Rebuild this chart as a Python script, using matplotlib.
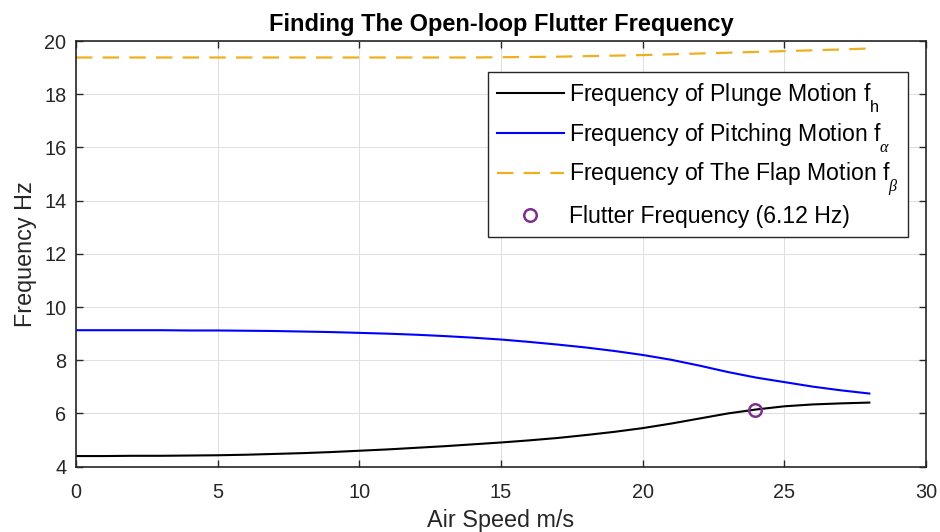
import matplotlib.pyplot as plt
import numpy as np

plt.rcParams['font.family'] = ['Liberation Sans', 'DejaVu Sans']
plt.rcParams['mathtext.fontset'] = 'custom'
plt.rcParams['mathtext.rm'] = 'Liberation Sans'
plt.rcParams['mathtext.it'] = 'Liberation Serif:italic'

# MATLAB puts subscripts lower than mathtext does
try:
    from matplotlib import _mathtext
    _mathtext.FontConstantsBase.sub1 = 1.0
except Exception:
    pass

# air speed (m/s)
speed = list(range(0, 29))

# plunge frequency f_h (Hz)
f_plunge = [4.40, 4.40, 4.41, 4.41, 4.42, 4.43, 4.45, 4.48, 4.51, 4.55,
            4.60, 4.65, 4.71, 4.77, 4.84, 4.91, 4.99, 5.08, 5.19, 5.31,
            5.45, 5.62, 5.81, 6.00, 6.15, 6.27, 6.34, 6.38, 6.41]

# pitching frequency f_alpha (Hz)
f_pitch = [9.13, 9.13, 9.13, 9.13, 9.12, 9.12, 9.11, 9.10, 9.08, 9.06,
           9.03, 9.00, 8.96, 8.91, 8.85, 8.78, 8.69, 8.59, 8.48, 8.35,
           8.20, 8.02, 7.80, 7.56, 7.35, 7.18, 7.01, 6.87, 6.75]

# flap frequency f_beta (Hz)
f_flap = [19.38, 19.38, 19.38, 19.38, 19.38, 19.38, 19.38, 19.38, 19.38, 19.38,
          19.38, 19.38, 19.38, 19.38, 19.38, 19.39, 19.40, 19.41, 19.43, 19.45,
          19.47, 19.50, 19.53, 19.56, 19.59, 19.62, 19.65, 19.68, 19.72]

flutter_speed = 23.95
flutter_freq = 6.12

axcol = '#262626'

fig = plt.figure(figsize=(9.4, 5.32), dpi=100)
ax = fig.add_axes([76 / 940, 1 - 466.7 / 532, 850 / 940, 425.7 / 532])

ax.plot(speed, f_plunge, color='black', lw=1.5,
        label=r'Frequency of Plunge Motion f$_{\mathrm{h}}$')
ax.plot(speed, f_pitch, color='#0000ff', lw=1.5,
        label=r'Frequency of Pitching Motion f$_{\alpha}$')
ax.plot(speed, f_flap, color='#edb120', lw=1.6, ls=(0, (7.4, 4.6)),
        label=r'Frequency of The Flap Motion f$_{\beta}$')
ax.plot([flutter_speed], [flutter_freq], 'o', mfc='none', mec='#7e2f8e',
        mew=1.8, ms=9, ls='none', label='Flutter Frequency (6.12 Hz)')

ax.set_xlim(0, 30)
ax.set_ylim(4, 20)
ax.set_xticks(np.arange(0, 31, 5))
ax.set_yticks(np.arange(4, 21, 2))
ax.grid(True, color='#dedede', lw=0.7)
ax.set_axisbelow(True)
ax.tick_params(direction='in', length=5, width=1, colors=axcol,
               labelsize=14.3, top=True, right=True, labelcolor=axcol)
ax.tick_params(axis='x', pad=12)
ax.tick_params(axis='y', pad=7)
for s in ax.spines.values():
    s.set_color(axcol)
    s.set_linewidth(1.2)

ax.set_xlabel('Air Speed m/s', fontsize=16.8, color=axcol, labelpad=5)
ax.set_ylabel('Frequency Hz', fontsize=16.8, color=axcol, labelpad=5)
ax.set_title('Finding The Open-loop Flutter Frequency', fontsize=17,
             fontweight='bold', color='black', pad=7)

leg = ax.legend(loc='upper right', bbox_to_anchor=(1 - 18 / 850, 1 - 31 / 425.7),
                fontsize=16.6, frameon=True, fancybox=False, edgecolor=axcol,
                framealpha=1, handlelength=2.9, borderpad=0.38,
                labelspacing=0.3, handletextpad=0.25, borderaxespad=0)
leg.get_frame().set_linewidth(1.0)

fig.savefig('out.png', dpi=100)
